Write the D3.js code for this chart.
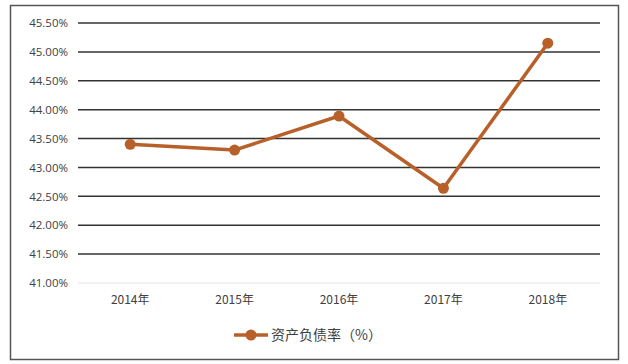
<!DOCTYPE html>
<html>
<head>
<meta charset="utf-8">
<script src="https://cdn.jsdelivr.net/npm/d3@7"></script>
<style>
  body { margin: 0; background: #fff; }
  text { font-family: "Noto Sans CJK SC", "Open Sans", sans-serif; }
</style>
</head>
<body>
<div id="chart"></div>
<script>
const years = ["2014年", "2015年", "2016年", "2017年", "2018年"];
const debtRatio = [43.40, 43.30, 43.89, 42.64, 45.15];
const yTicks = [41.0, 41.5, 42.0, 42.5, 43.0, 43.5, 44.0, 44.5, 45.0, 45.5];
const seriesName = "资产负债率（%）";

const W = 628, H = 364;
const margin = {top: 23, right: 28, bottom: 81, left: 78},
    width = W - margin.left - margin.right,
    height = H - margin.top - margin.bottom;
const color = "#b8602a";

const svg = d3.select("#chart")
  .append("svg")
    .attr("width", W)
    .attr("height", H);

// outer frame
svg.append("rect")
    .attr("x", 10.5).attr("y", 5.5)
    .attr("width", 608).attr("height", 354)
    .attr("fill", "none")
    .attr("stroke", "#555")
    .attr("stroke-width", 1.5);

const g = svg.append("g")
    .attr("transform", `translate(${margin.left},${margin.top})`);

const x = d3.scaleBand()
    .domain(years)
    .range([0, width]);

const y = d3.scaleLinear()
    .domain([41, 45.5])
    .range([height, 0]);

// gridlines
g.selectAll("line.grid")
  .data(yTicks)
  .join("line")
    .attr("class", "grid")
    .attr("x1", 0).attr("x2", width)
    .attr("y1", d => y(d)).attr("y2", d => y(d))
    .attr("stroke", d => d === 41 ? "#eeeeee" : "#333")
    .attr("stroke-width", 1.5);

// y labels
g.append("g")
    .call(d3.axisLeft(y).tickValues(yTicks).tickFormat(d => d.toFixed(2) + "%").tickSize(0).tickPadding(10))
    .call(a => a.select(".domain").remove())
    .selectAll("text")
      .attr("fill", "#404040")
      .style("font-size", "11.5px")
      .style("font-family", "'Open Sans', sans-serif");

// x labels
g.append("g")
    .attr("transform", `translate(0,${height})`)
    .call(d3.axisBottom(x).tickSize(0).tickPadding(12))
    .call(a => a.select(".domain").remove())
    .selectAll("text")
      .attr("fill", "#404040")
      .style("font-size", "12px");

const cx = d => x(d) + x.bandwidth() / 2;

g.append("path")
    .datum(debtRatio)
    .attr("fill", "none")
    .attr("stroke", color)
    .attr("stroke-width", 3.5)
    .attr("stroke-linejoin", "round")
    .attr("d", d3.line().x((d, i) => cx(years[i])).y(d => y(d)));

g.selectAll("circle.pt")
  .data(debtRatio)
  .join("circle")
    .attr("class", "pt")
    .attr("cx", (d, i) => cx(years[i]))
    .attr("cy", d => y(d))
    .attr("r", 5.5)
    .attr("fill", color);

// legend
const lg = svg.append("g").attr("transform", "translate(234,335)");
lg.append("line")
    .attr("x1", 0).attr("x2", 34)
    .attr("stroke", color).attr("stroke-width", 3.5);
lg.append("circle").attr("cx", 17).attr("r", 5.5).attr("fill", color);
lg.append("text")
    .attr("x", 37).attr("dy", "0.35em")
    .attr("fill", "#404040")
    .style("font-size", "14px")
    .text(seriesName);
</script>
</body>
</html>
